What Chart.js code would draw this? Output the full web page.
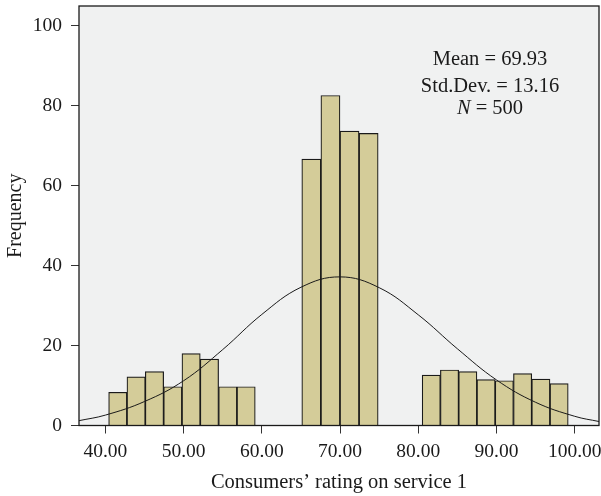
<!DOCTYPE html>
<html>
<head>
<meta charset="utf-8">
<script src="https://cdn.jsdelivr.net/npm/chart.js@4.4.1/dist/chart.umd.min.js"></script>
<style>
  html, body { margin: 0; padding: 0; background: #fff; }
  canvas { display: block; }
</style>
</head>
<body>
<canvas id="histChart" width="601" height="496"></canvas>
<script>
// Histogram bins (bin centres) and frequencies
const lowBins = [41.59, 43.93, 46.28, 48.62, 50.96, 53.30, 55.65, 57.99];
const lowFreq = [8.3, 12.2, 13.5, 9.7, 18.0, 16.6, 9.7, 9.7];

const midBins = [66.33, 68.77, 71.21, 73.65];
const midFreq = [66.7, 82.6, 73.7, 73.1];

const highBins = [81.66, 83.99, 86.33, 88.66, 91.00, 93.33, 95.67, 98.00];
const highFreq = [12.6, 13.9, 13.5, 11.5, 11.2, 13.0, 11.6, 10.5];

// Normal curve overlay
const curveX = [36.6, 40, 45, 50, 55, 60, 65, 70, 75, 80, 85, 90, 95, 100, 103.1];
const curveY = [1.2, 2.6, 6.0, 11.2, 19.0, 27.8, 34.6, 37.2, 34.5, 27.7, 19.2, 11.4, 5.8, 2.3, 1.0];

const xTicks = [40, 50, 60, 70, 80, 90, 100];
const yTicks = [0, 20, 40, 60, 80, 100];

const statLines = [
    { label: 'Mean', value: '69.93' },
    { label: 'Std.Dev.', value: '13.16' },
    { label: 'N', value: '500', italic: true }
];

const SERIF = "'Liberation Serif', 'DejaVu Serif', serif";
const INK = '#1a1a1a';
const BAR_FILL = '#D4CC99';
const PANEL = '#F0F1F1';

const toPoints = (xs, ys) => xs.map((x, i) => ({ x: x, y: ys[i] }));

function barSet(bins, freq) {
    return {
        data: toPoints(bins, freq),
        backgroundColor: BAR_FILL,
        borderColor: INK,
        borderWidth: 1.2,
        borderSkipped: 'start',
        barThickness: 'flex',
        categoryPercentage: 1,
        barPercentage: 1,
        order: 1
    };
}

// Grey panel behind the bars, frame and the summary text on top
const panelPlugin = {
    id: 'panel',
    beforeDraw(chart) {
        const { ctx, chartArea: a } = chart;
        ctx.save();
        ctx.fillStyle = PANEL;
        ctx.fillRect(a.left, a.top, a.right - a.left, a.bottom - a.top);
        ctx.restore();
    },
    afterDraw(chart) {
        const { ctx, chartArea: a } = chart;
        ctx.save();
        ctx.strokeStyle = INK;
        ctx.lineWidth = 1.3;
        ctx.strokeRect(a.left, a.top, a.right - a.left, a.bottom - a.top);

        const cx = a.right - 109;
        const baselines = [a.top + 59, a.top + 85.5, a.top + 107.5];
        const font = '20.5px ' + SERIF;
        ctx.fillStyle = INK;
        ctx.textBaseline = 'alphabetic';
        ctx.textAlign = 'left';
        statLines.forEach((line, i) => {
            const headFont = (line.italic ? 'italic ' : '') + font;
            const tail = ' = ' + line.value;
            ctx.font = headFont;
            const w1 = ctx.measureText(line.label).width;
            ctx.font = font;
            const w2 = ctx.measureText(tail).width;
            const x = cx - (w1 + w2) / 2;
            ctx.font = headFont;
            ctx.fillText(line.label, x, baselines[i]);
            ctx.font = font;
            ctx.fillText(tail, x + w1, baselines[i]);
        });
        ctx.restore();
    }
};

const ctx = document.getElementById('histChart').getContext('2d');

const histChart = new Chart(ctx, {
    type: 'bar',
    data: {
        datasets: [
            {
                type: 'line',
                data: toPoints(curveX, curveY),
                borderColor: INK,
                borderWidth: 1,
                pointRadius: 0,
                tension: 0.4,
                fill: false,
                order: 0
            },
            barSet(lowBins, lowFreq),
            barSet(midBins, midFreq),
            barSet(highBins, highFreq)
        ]
    },
    options: {
        responsive: false,
        animation: false,
        layout: { padding: { top: 6, right: 2, left: 0, bottom: 0 } },
        plugins: {
            legend: { display: false },
            tooltip: { enabled: false }
        },
        scales: {
            x: {
                type: 'linear',
                min: 36.63,
                max: 103.1,
                stacked: true,
                offset: false,
                afterBuildTicks: (scale) => { scale.ticks = xTicks.map(v => ({ value: v })); },
                afterFit: (scale) => {
                    scale.height = 70.5;
                    scale.paddingLeft = 0;
                    scale.paddingRight = 0;
                },
                grid: { offset: false, drawOnChartArea: false, tickLength: 8, color: '#333', lineWidth: 1 },
                border: { display: false },
                ticks: {
                    color: INK,
                    padding: 7,
                    maxRotation: 0,
                    autoSkip: false,
                    font: { family: SERIF, size: 19.5 },
                    callback: (v) => Number(v).toFixed(2)
                },
                title: {
                    display: true,
                    text: 'Consumers\u2019 rating on service 1',
                    color: INK,
                    font: { family: SERIF, size: 20.5 },
                    padding: { top: 0, bottom: 1 }
                }
            },
            y: {
                min: 0,
                max: 105,
                afterBuildTicks: (scale) => { scale.ticks = yTicks.map(v => ({ value: v })); },
                afterFit: (scale) => {
                    scale.width = 79;
                    scale.paddingTop = 0;
                    scale.paddingBottom = 0;
                },
                grid: { drawOnChartArea: false, tickLength: 8, color: '#333', lineWidth: 1 },
                border: { display: false },
                ticks: {
                    color: INK,
                    padding: 9,
                    font: { family: SERIF, size: 19.5 }
                },
                title: {
                    display: true,
                    text: 'Frequency',
                    color: INK,
                    font: { family: SERIF, size: 20 },
                    padding: { top: 4, bottom: 0 }
                }
            }
        }
    },
    plugins: [panelPlugin]
});
</script>
</body>
</html>
